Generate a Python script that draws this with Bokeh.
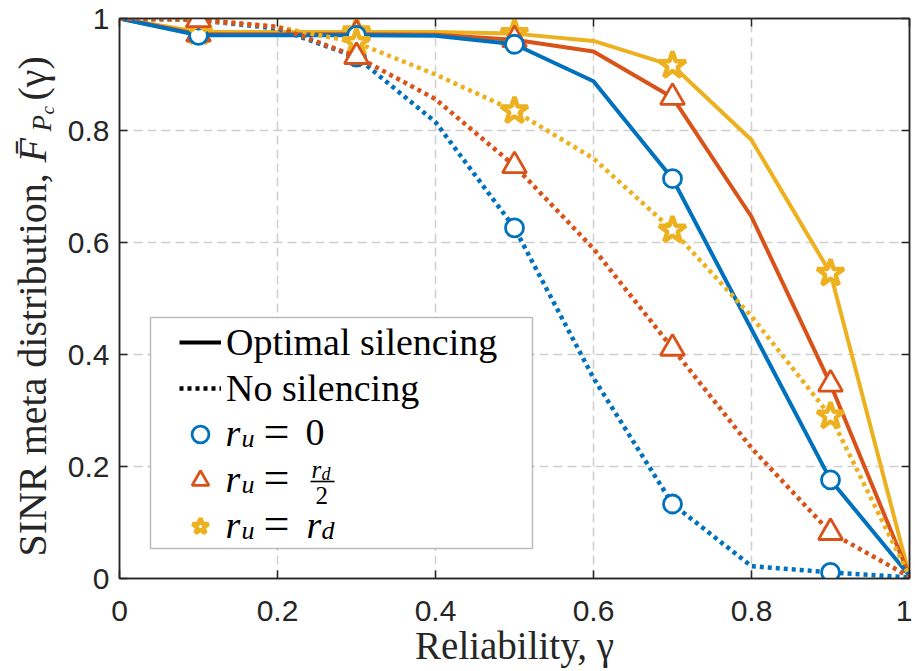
import numpy as np
from bokeh.plotting import figure
from bokeh.layouts import row
from bokeh.models import (Range1d, FixedTicker, LinearAxis, Legend, LegendItem, Label,
                          BoxAnnotation, ColumnDataSource, CDSView, IndexFilter)
from bokeh.embed import file_html
from bokeh.resources import INLINE

# ---------------- data ----------------
gamma = [0.0, 0.1, 0.2, 0.3, 0.4, 0.5, 0.6, 0.7, 0.8, 0.9, 1.0]
opt_r0    = [1.0, 0.970, 0.970, 0.970, 0.969, 0.954, 0.888, 0.714, 0.445, 0.176, 0.005]
opt_rhalf = [1.0, 0.972, 0.972, 0.972, 0.971, 0.962, 0.941, 0.859, 0.646, 0.347, 0.005]
opt_rd    = [1.0, 0.976, 0.976, 0.976, 0.976, 0.973, 0.960, 0.916, 0.783, 0.545, 0.005]
no_r0     = [1.0, 0.997, 0.982, 0.931, 0.815, 0.626, 0.358, 0.133, 0.022, 0.011, 0.002]
no_rhalf  = [1.0, 0.998, 0.985, 0.932, 0.856, 0.737, 0.589, 0.411, 0.233, 0.082, 0.003]
no_rd     = [1.0, 0.998, 0.985, 0.957, 0.900, 0.835, 0.750, 0.622, 0.468, 0.290, 0.004]
marker_idx = [1, 3, 5, 7, 9]
ticks = [0, 0.2, 0.4, 0.6, 0.8, 1]
tick_labels = ["0", "0.2", "0.4", "0.6", "0.8", "1"]

BLUE, ORANGE, YELLOW = "#0072BD", "#D95319", "#EDB120"
AX = "#262626"
SERIF = "Liberation Serif"
H = 671
LEFT_W = 60
TOP, BOTTOM = 18, 93          # borders shared by both panels of the row

# ---------------- main figure ----------------
p = figure(width=912 - LEFT_W, height=H, x_range=Range1d(0, 1), y_range=Range1d(0, 1),
           output_backend="svg", toolbar_location=None,
           min_border_left=119 - LEFT_W, min_border_right=3, min_border_top=TOP,
           min_border_bottom=BOTTOM)
p.background_fill_color = "white"
p.outline_line_color = AX
p.outline_line_width = 1.5

overrides = {t: l for t, l in zip(ticks, tick_labels)}
for ax in (p.xaxis[0], p.yaxis[0]):
    ax.ticker = FixedTicker(ticks=ticks)
    ax.major_label_overrides = overrides
    ax.major_tick_in = 8
    ax.major_tick_out = 0
    ax.minor_tick_line_color = None
    ax.axis_line_color = AX
    ax.axis_line_width = 1.5
    ax.major_tick_line_color = AX
    ax.major_tick_line_width = 1.5
    ax.major_label_text_font = "Liberation Sans"
    ax.major_label_text_font_size = "30px"
    ax.major_label_text_color = AX
p.xaxis.major_label_standoff = 22
p.yaxis.major_label_standoff = 10
p.xaxis.axis_label = "Reliability, γ"
p.xaxis.axis_label_text_font = SERIF
p.xaxis.axis_label_text_font_size = "39px"
p.xaxis.axis_label_text_font_style = "normal"
p.xaxis.axis_label_text_color = AX
p.xaxis.axis_label_standoff = 0

for side in ("above", "right"):
    ax = LinearAxis(ticker=FixedTicker(ticks=ticks), major_label_overrides={t: "" for t in ticks},
                    major_label_text_font_size="0px", major_label_standoff=0,
                    major_tick_in=8, major_tick_out=0, minor_tick_line_color=None,
                    axis_line_color=AX, axis_line_width=1.5,
                    major_tick_line_color=AX, major_tick_line_width=1.5)
    p.add_layout(ax, side)

for g in (p.xgrid[0], p.ygrid[0]):
    g.ticker = FixedTicker(ticks=ticks)
    g.grid_line_color = "#cfcfcf"
    g.grid_line_width = 1.5
    g.grid_line_dash = "9 5"

# ---------------- series ----------------
LW = 4
DOT = "4 4"
MK = {"circle": (18, 2.8), "triangle": (24, 2.8), "star": (28, 4.5)}
series = [
    (opt_rd, YELLOW, "solid", "star"),
    (opt_rhalf, ORANGE, "solid", "triangle"),
    (opt_r0, BLUE, "solid", "circle"),
    (no_r0, BLUE, DOT, "circle"),
    (no_rd, YELLOW, DOT, "star"),
    (no_rhalf, ORANGE, DOT, "triangle"),
]
marker_renderers = {}
for vals, col, dash, mk in series:
    src = ColumnDataSource(dict(x=gamma, y=vals))
    p.line("x", "y", source=src, line_color=col, line_width=LW if dash == "solid" else 4.5,
           line_dash=dash)
    sz, mlw = MK[mk]
    r = p.scatter("x", "y", source=src, view=CDSView(filter=IndexFilter(marker_idx)),
                  marker=mk, size=sz, line_color=col, fill_color="white", line_width=mlw)
    if dash == "solid":
        marker_renderers[mk] = r

key_solid = p.line(x=[np.nan], y=[np.nan], line_color="black", line_width=LW)
key_dot = p.line(x=[np.nan], y=[np.nan], line_color="black", line_width=4.5, line_dash=DOT)

# ---------------- legend ----------------
box = BoxAnnotation(left=(150 - 119) / 790, right=(532 - 119) / 790,
                    top=(578 - 317) / 560, bottom=(578 - 548) / 560,
                    fill_color="white", fill_alpha=1.0, line_color=AX, line_width=1.5)
p.add_layout(box)

legend = Legend(items=[
    LegendItem(label="Optimal silencing", renderers=[key_solid]),
    LegendItem(label="No silencing", renderers=[key_dot]),
    LegendItem(label=" ", renderers=[marker_renderers["circle"]]),
    LegendItem(label=" ", renderers=[marker_renderers["triangle"]]),
    LegendItem(label=" ", renderers=[marker_renderers["star"]]),
], location=(60, 29), orientation="vertical", padding=0, spacing=0, margin=0,
    glyph_width=42, glyph_height=46, label_height=46, label_standoff=5,
    label_text_font=SERIF, label_text_font_size="38px", label_text_color="black",
    border_line_color=None, background_fill_alpha=0)
p.add_layout(legend)


def lab(fig, text, x, y, size, style="normal", angle=0.0, color="black", xo=0, yo=0):
    fig.add_layout(Label(x=x, y=y, x_offset=xo, y_offset=yo, text=text, angle=angle,
                         text_font=SERIF, text_font_size=f"{size}px", text_font_style=style,
                         text_color=color, text_align="left", text_baseline="middle"))


def leg(text, px, py, size, style="normal"):
    lab(p, text, 0, 0, size, style, xo=px - 119, yo=578 - py)


for c in (434, 480, 526):
    leg("r", 225, c - 2, 38, "italic")
    leg("u", 241, c + 4, 26, "italic")
    leg("=", 263, c - 3, 46)
leg("0", 305, 432, 38)
leg("r", 311, 469, 25, "italic")
leg("d", 321, 473, 18, "italic")
p.add_layout(BoxAnnotation(left=(310 - 119) / 790, right=(334 - 119) / 790,
                           top=(578 - 480.2) / 560, bottom=(578 - 481.8) / 560,
                           fill_color="black", fill_alpha=1.0, line_color=None))
leg("2", 315, 495, 25)
leg("r", 306, 524, 38, "italic")
leg("d", 321, 530, 26, "italic")

# ---------------- y-axis label panel ----------------
# its frame is aligned with the main frame, so its y range is set to page pixels (from bottom)
yl = figure(width=LEFT_W, height=H, x_range=Range1d(0, LEFT_W),
            y_range=Range1d(BOTTOM, H - TOP),
            output_backend="svg", toolbar_location=None, min_border=0,
            min_border_top=TOP, min_border_bottom=BOTTOM,
            x_axis_location=None, y_axis_location=None, outline_line_color=None)
yl.grid.visible = False
ang = np.pi / 2
lab(yl, "SINR meta distribution,", 32, H - 556, 40, angle=ang, color=AX)
lab(yl, "F\u0304", 32, H - 162, 40, "italic", angle=ang, color=AX)
lab(yl, "P", 41, H - 131, 27, "italic", angle=ang, color=AX)
lab(yl, "c", 46.5, H - 114, 19, "italic", angle=ang, color=AX)
lab(yl, "(γ)", 32, H - 100, 40, angle=ang, color=AX)

layout = row(yl, p)
open("out.html", "w").write(file_html(layout, INLINE))
